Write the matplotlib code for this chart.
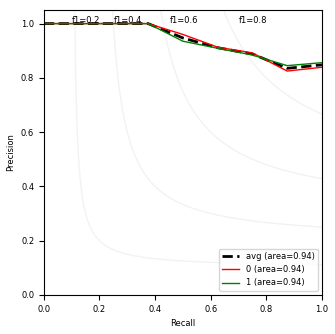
import matplotlib
matplotlib.use('Agg')
import matplotlib.pyplot as plt
import numpy as np

recall = [0.0, 0.375, 0.5, 0.625, 0.75, 0.875, 1.0]
prec_avg = [1.0, 1.0, 0.947, 0.911, 0.888, 0.835, 0.848]
prec_0 = [1.0, 1.0, 0.960, 0.913, 0.892, 0.825, 0.839]
prec_1 = [1.0, 1.0, 0.935, 0.909, 0.884, 0.845, 0.856]
f1_levels = [0.2, 0.4, 0.6, 0.8]
f1_label_x = [0.102, 0.252, 0.453, 0.701]

plt.rcParams['font.size'] = 6
fig = plt.figure(figsize=(3.35, 3.34), dpi=100)
ax = fig.add_axes([0.131, 0.117, 0.830, 0.853])

for f, lx in zip(f1_levels, f1_label_x):
    x = np.linspace(0.01, 1, 200)
    y = f * x / (2 * x - f)
    m = y >= 0
    ax.plot(x[m], y[m], color='gray', alpha=0.1, lw=1)
    ax.text(lx, 1.013, 'f1={0:0.1f}'.format(f), va='center', fontsize=6)

ax.plot(recall, prec_avg, color='black', ls='--', lw=2, label='avg (area=0.94)')
ax.plot(recall, prec_0, color='red', lw=1, label='0 (area=0.94)')
ax.plot(recall, prec_1, color='green', lw=1, label='1 (area=0.94)')

ax.set_xlim(0.0, 1.0)
ax.set_ylim(0.0, 1.05)
ax.set_xlabel('Recall')
ax.set_ylabel('Precision')
ax.legend(loc='lower right', fontsize=6)
fig.savefig('out.png', dpi=100)
